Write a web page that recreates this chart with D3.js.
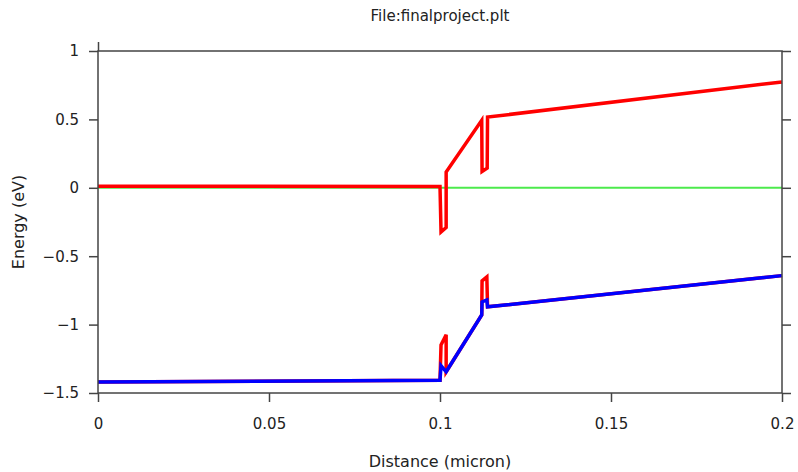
<!DOCTYPE html>
<html>
<head>
<meta charset="utf-8">
<script src="https://cdn.jsdelivr.net/npm/d3@7"></script>
<style>
  body { margin: 0; background: #fff; }
  text { font-family: "DejaVu Sans", Verdana, sans-serif; fill: #222; }
</style>
</head>
<body>
<svg id="chart"></svg>
<script>
// Distance (micron) / energy (eV) points
const ecX = [0, 0.1, 0.1003, 0.1018, 0.1018, 0.1122, 0.1123, 0.1138, 0.1139, 0.2];
const ecY = [0.012, 0.01, -0.323, -0.29, 0.115, 0.494, 0.119, 0.144, 0.517, 0.774];

const evRedX = [0, 0.1, 0.1003, 0.1018, 0.1018, 0.1122, 0.1123, 0.1137, 0.1139, 0.2];
const evRedY = [-1.42, -1.407, -1.148, -1.075, -1.345, -0.929, -0.680, -0.651, -0.87, -0.642];

const evBlueX = [0, 0.1, 0.1003, 0.1018, 0.1122, 0.1123, 0.1137, 0.1139, 0.2];
const evBlueY = [-1.42, -1.407, -1.30, -1.345, -0.929, -0.834, -0.82, -0.87, -0.642];

const efX = [0, 0.2];
const efY = [0, 0];

const xTicks = [0, 0.05, 0.1, 0.15, 0.2];
const yTicks = [1, 0.5, 0, -0.5, -1, -1.5];

const width = 798, height = 472;
const margin = { top: 51, right: 16, bottom: 79, left: 98 };

const svg = d3.select("#chart")
  .attr("width", width)
  .attr("height", height);

const x = d3.scaleLinear()
  .domain([0, 0.2])
  .range([margin.left, width - margin.right]);

const y = d3.scaleLinear()
  .domain([-1.5, 1])
  .range([height - margin.bottom, margin.top]);

// curves
const line = d3.line()
  .x(d => x(d[0]))
  .y(d => y(d[1]));

const series = [
  { xs: efX, ys: efY, color: "#4cea4c", w: 2 },
  { xs: evRedX, ys: evRedY, color: "#ff0000", w: 3.5 },
  { xs: evBlueX, ys: evBlueY, color: "#0000ff", w: 3.5 },
  { xs: ecX, ys: ecY, color: "#ff0000", w: 3.5 }
];

series.forEach(s => {
  svg.append("path")
    .datum(s.xs.map((v, i) => [v, s.ys[i]]))
    .attr("fill", "none")
    .attr("stroke", s.color)
    .attr("stroke-width", s.w)
    .attr("stroke-linejoin", "miter")
    .attr("d", line);
});

// axes: ticks pointing out on left, bottom and right
const tick = 9;
function styleAxis(g) {
  g.selectAll("path, line").attr("stroke", "#444").attr("stroke-width", 1.5);
  g.selectAll("text").style("font-size", "15px").attr("fill", "#222");
}

svg.append("g")
  .attr("transform", `translate(0,${height - margin.bottom})`)
  .call(d3.axisBottom(x).tickValues(xTicks).tickSize(tick).tickSizeOuter(0).tickPadding(16).tickFormat(d3.format("")))
  .call(g => g.select(".domain").remove())
  .call(styleAxis);

svg.append("g")
  .attr("transform", `translate(0,${margin.top})`)
  .call(d3.axisTop(x).tickValues([0]).tickSize(tick).tickSizeOuter(0).tickFormat(""))
  .call(g => g.select(".domain").remove())
  .call(styleAxis);

svg.append("g")
  .attr("transform", `translate(${margin.left},0)`)
  .call(d3.axisLeft(y).tickValues(yTicks).tickSize(tick).tickSizeOuter(0).tickPadding(10).tickFormat(d3.format("")))
  .call(g => g.select(".domain").remove())
  .call(styleAxis);

svg.append("g")
  .attr("transform", `translate(${width - margin.right},0)`)
  .call(d3.axisRight(y).tickValues(yTicks).tickSize(tick).tickSizeOuter(0).tickFormat(""))
  .call(g => g.select(".domain").remove())
  .call(styleAxis);

// frame
svg.append("rect")
  .attr("x", margin.left)
  .attr("y", margin.top)
  .attr("width", width - margin.left - margin.right)
  .attr("height", height - margin.top - margin.bottom)
  .attr("fill", "none")
  .attr("stroke", "#444")
  .attr("stroke-width", 1.5);

// title and labels
svg.append("text")
  .attr("x", (margin.left + width - margin.right) / 2)
  .attr("y", 21)
  .attr("text-anchor", "middle")
  .style("font-size", "15px")
  .text("File:finalproject.plt");

svg.append("text")
  .attr("x", (margin.left + width - margin.right) / 2)
  .attr("y", 467)
  .attr("text-anchor", "middle")
  .style("font-size", "16px")
  .text("Distance (micron)");

svg.append("text")
  .attr("transform", `translate(24,${(margin.top + height - margin.bottom) / 2}) rotate(-90)`)
  .attr("text-anchor", "middle")
  .style("font-size", "16px")
  .text("Energy (eV)");
</script>
</body>
</html>
